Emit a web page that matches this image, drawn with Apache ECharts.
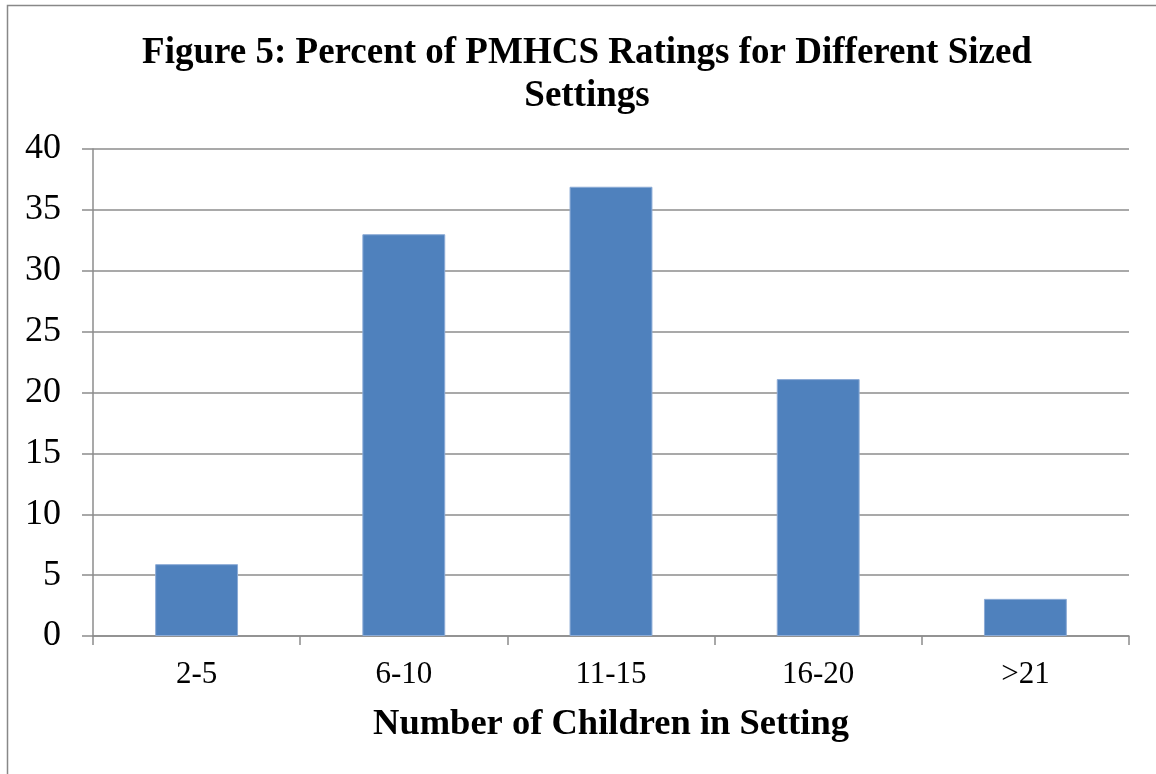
<!DOCTYPE html>
<html>
<head>
<meta charset="utf-8">
<script src="https://cdn.jsdelivr.net/npm/echarts@6/dist/echarts.min.js"></script>
<style>
  html, body { margin: 0; padding: 0; background: #fff; }
  #chart { width: 1156px; height: 774px; }
</style>
</head>
<body>
<div id="chart"></div>
<script>
// data
var categories = ['2-5', '6-10', '11-15', '16-20', '>21'];
var percents = [5.9, 33, 36.9, 21.1, 3.05];
var yTicks = { min: 0, max: 40, step: 5 };

var serif = '"Liberation Serif", "Times New Roman", serif';
var gridGray = '#8c8c8c';

var chart = echarts.init(document.getElementById('chart'));

chart.setOption({
    backgroundColor: '#fff',
    animation: false,
    title: {
        text: 'Figure 5: Percent of PMHCS Ratings for Different Sized\nSettings',
        left: 582,
        textAlign: 'center',
        top: 27,
        textStyle: {
            fontFamily: serif,
            fontWeight: 'bold',
            fontSize: 37,
            lineHeight: 43,
            color: '#000'
        }
    },
    graphic: [{
        type: 'rect',
        shape: { x: 7.5, y: 5.5, width: 1170, height: 800 },
        style: { fill: 'none', stroke: '#888', lineWidth: 1.5 },
        silent: true
    }],
    grid: { left: 93, right: 27, top: 149, bottom: 138 },
    xAxis: {
        type: 'category',
        data: categories,
        name: 'Number of Children in Setting',
        nameLocation: 'middle',
        nameGap: 70,
        nameTextStyle: {
            fontFamily: serif,
            fontWeight: 'bold',
            fontSize: 36.5,
            color: '#000'
        },
        axisLine: { lineStyle: { color: gridGray, width: 1.5 } },
        axisTick: { show: true, alignWithLabel: false, length: 9, lineStyle: { color: gridGray, width: 1.5 } },
        axisLabel: { fontFamily: serif, fontSize: 31, color: '#000', margin: 23 }
    },
    yAxis: {
        type: 'value',
        min: yTicks.min,
        max: yTicks.max,
        interval: yTicks.step,
        axisLine: { show: true, lineStyle: { color: gridGray, width: 1.5 } },
        axisTick: { show: true, length: 11, lineStyle: { color: gridGray, width: 1.5 } },
        axisLabel: { fontFamily: serif, fontSize: 36, color: '#000', margin: 32 },
        splitLine: { lineStyle: { color: gridGray, width: 1.5 } }
    },
    series: [{
        type: 'bar',
        data: percents,
        barWidth: '40%',
        itemStyle: {
            color: '#4F81BD',
            borderColor: '#8cabd6',
            borderWidth: 1
        }
    }]
});
</script>
</body>
</html>
